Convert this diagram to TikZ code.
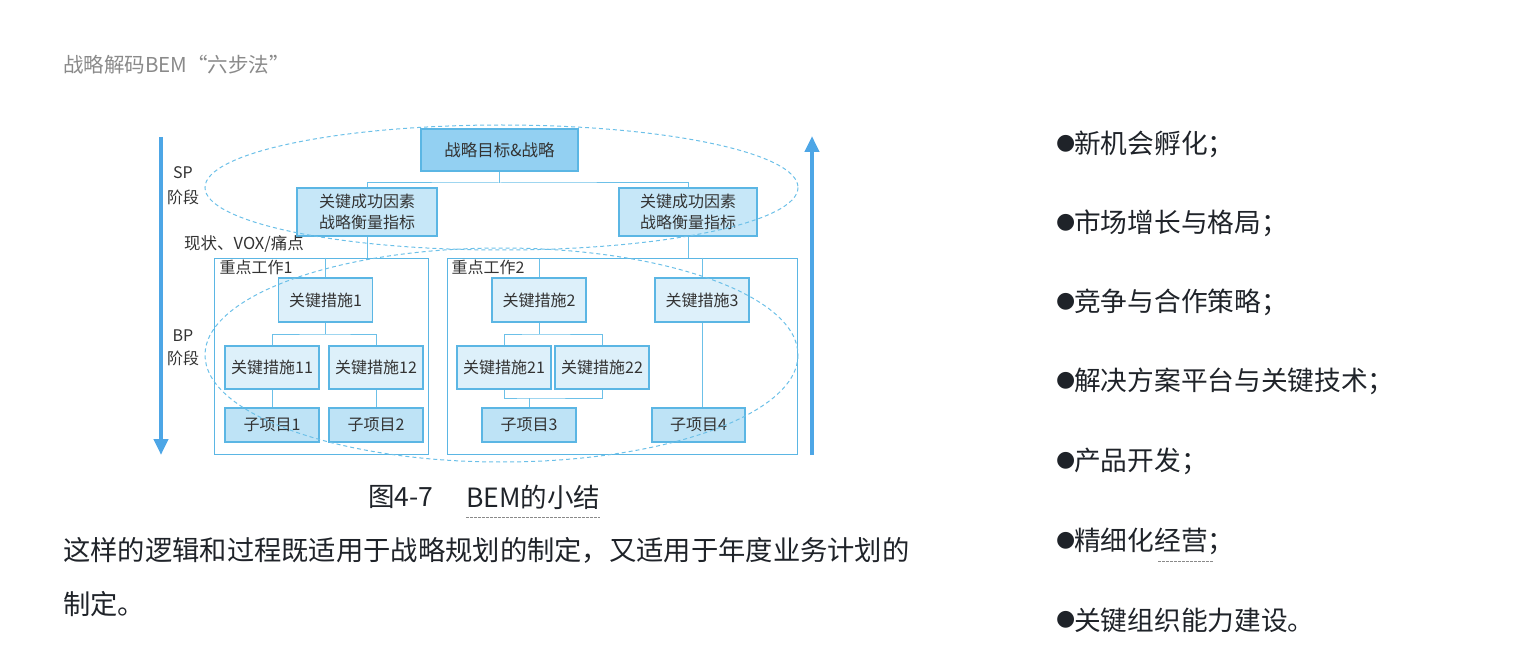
\documentclass[tikz,border=0pt]{standalone}
\usepackage{fontspec}
\setmainfont{Noto Sans CJK SC}
\newfontfamily\dejavu{DejaVu Sans}
\usetikzlibrary{arrows.meta}
\definecolor{bline}{HTML}{6CC0E8}
\definecolor{bdraw}{HTML}{5BB6E4}
\definecolor{fTop}{HTML}{93D0F2}
\definecolor{fCsf}{HTML}{C6E7F8}
\definecolor{fMea}{HTML}{DDF0FA}
\definecolor{fSub}{HTML}{BEE3F6}
\definecolor{arrowc}{HTML}{4DA6E6}
\definecolor{txt}{HTML}{1F2329}
\definecolor{dtxt}{HTML}{333333}
\definecolor{hdr}{HTML}{8A8A8A}
\tikzset{
  x=1pt, y=-1pt,
  box/.style={draw=bdraw, line width=1.1pt, inner sep=0pt, text=dtxt, font=\fontsize{16}{20.5}\selectfont, align=center},
  topbox/.style={box, fill=fTop, minimum width=157pt, minimum height=42pt, font=\fontsize{16.5}{20}\selectfont},
  csfbox/.style={box, fill=fCsf, minimum width=140pt, minimum height=48pt},
  meabox/.style={box, fill=fMea, minimum width=94pt, minimum height=44pt},
  mea2box/.style={box, fill=fMea, minimum width=94pt, minimum height=43pt},
  subbox/.style={box, fill=fSub, minimum width=94pt, minimum height=34pt},
  grpbox/.style={draw=bdraw, line width=1pt, inner sep=0pt},
  conn/.style={draw=bline, line width=1pt},
  ell/.style={draw=bline, line width=1pt, dash pattern=on 4pt off 3pt},
  bigarrow/.style={draw=arrowc, line width=4pt, -{Triangle[length=16pt,width=14pt]}},
  lbl/.style={inner sep=0pt, text=dtxt, font=\fontsize{16}{19}\selectfont},
  body/.style={inner sep=0pt, anchor=west, text=txt, font=\fontsize{27.3}{30}\selectfont},
  bul/.style={inner sep=0pt, anchor=west, text=txt, font=\fontsize{26.7}{30}\selectfont},
  uline/.style={draw=hdr, line width=0.7pt, dash pattern=on 2.5pt off 1.5pt}
}
\begin{document}
\begin{tikzpicture}
\useasboundingbox (0,0) rectangle (1517,671);
% header
\node[inner sep=0pt, anchor=west, text=hdr, font=\fontsize{20.5}{24}\selectfont] (hd) at (63,65) {战略解码BEM“六步法”};
% arrows
\coordinate (la1) at (161,137); \coordinate (la2) at (161,455);
\draw[bigarrow] (la1) -- (la2);
\coordinate (ra1) at (812,455); \coordinate (ra2) at (812,136);
\draw[bigarrow] (ra1) -- (ra2);
% group boxes
\node[grpbox, minimum width=214pt, minimum height=196pt] (G1) at (321,356) {};
\node[grpbox, minimum width=350pt, minimum height=196pt] (G2) at (622,356) {};
\node[lbl, anchor=north west] (g1l) at (G1.north west) [xshift=6pt, yshift=-2pt] {重点工作1};
\node[lbl, anchor=north west] (g2l) at (G2.north west) [xshift=5pt, yshift=-2pt] {重点工作2};
% SP nodes
\node[topbox] (T) at (499.5,150) {战略目标\&战略};
\node[csfbox] (CL) at (367,212) {关键成功因素\\战略衡量指标};
\node[csfbox, minimum width=138pt] (CR) at (688,212) {关键成功因素\\战略衡量指标};
% BP nodes
\node[meabox] (M1) at (325.5,300) {关键措施1};
\node[mea2box] (M11) at (272,367.5) {关键措施11};
\node[mea2box] (M12) at (376,367.5) {关键措施12};
\node[subbox] (P1) at (272,425) {子项目1};
\node[subbox] (P2) at (376,425) {子项目2};
\node[meabox] (M2) at (539,300) {关键措施2};
\node[meabox] (M3) at (702,300) {关键措施3};
\node[mea2box] (M21) at (504,367.5) {关键措施21};
\node[mea2box] (M22) at (602,367.5) {关键措施22};
\node[subbox] (P3) at (529,425) {子项目3};
\node[subbox, minimum width=93pt] (P4) at (698.5,425) {子项目4};
% connectors
\coordinate (j0) at (499.5,183);
\draw[conn] (T.south) -- (j0);
\draw[conn] (CL.north) |- (j0) -| (CR.north);
\draw[conn] (CL.south) -- (CL.south |- G1.north);
\draw[conn] (CR.south) -- (CR.south |- G2.north);
\draw[conn] (M1.north |- G1.north) -- (M1.north);
\coordinate (j1) at (325.5,334);
\draw[conn] (M1.south) -- (j1);
\draw[conn] (M11.north) |- (j1) -| (M12.north);
\draw[conn] (M11.south) -- (P1.north);
\draw[conn] (M12.south) -- (P2.north);
\draw[conn] (M2.north |- G2.north) -- (M2.north);
\draw[conn] (M3.north |- G2.north) -- (M3.north);
\coordinate (j2) at (539,334);
\draw[conn] (M2.south) -- (j2);
\draw[conn] (M21.north) |- (j2) -| (M22.north);
\coordinate (j3) at (529,398);
\draw[conn] (M21.south) |- (j3) -| (M22.south);
\draw[conn] (j3) -- (P3.north);
\draw[conn] (M3.south) -- (M3.south |- P4.north);
% ellipses
\draw[ell] (501.5,187.5) ellipse [x radius=296.5, y radius=62.5];
\draw[ell] (501.5,355) ellipse [x radius=296.5, y radius=107];
% side labels
\node[lbl] (sp1) at (183,173) {SP};
\node[lbl] (sp2) at (183,197) {阶段};
\node[lbl] (bp1) at (183,336) {BP};
\node[lbl] (bp2) at (183,358) {阶段};
\node[lbl, anchor=west, font=\fontsize{16.5}{19}\selectfont] (vox) at (184,244) {现状、VOX/痛点};
% caption
\node[inner sep=0pt, anchor=west, text=txt, font=\fontsize{26.5}{30}\selectfont] (cap1) at (368,497) {图4-7};
\node[inner sep=0pt, anchor=west, text=txt, font=\fontsize{26.5}{30}\selectfont] (cap2) at (466,497) {BEM的小结};
\draw[uline] (cap2.south west |- 0,517) -- (cap2.south east |- 0,517);
% paragraph
\node[body] (pa1) at (63,550) {这样的逻辑和过程既适用于战略规划的制定，又适用于年度业务计划的};
\node[body] (pa2) at (63,604) {制定。};
% bullets
\foreach \yy/\tt [count=\i] in {144/新机会孵化；,223/市场增长与格局；,302/竞争与合作策略；,381/解决方案平台与关键技术；,461/产品开发；,541/精细化经营；,620/关键组织能力建设。}{
  \node[bul, font=\dejavu\fontsize{22}{30}\selectfont] (b\i) at (1056,\yy) {●};
  \node[bul] (t\i) at (1074,\yy) {\tt};
}
\coordinate (u1) at (1158,561); \coordinate (u2) at (1213,561);
\draw[uline] (u1) -- (u2);
\end{tikzpicture}
\end{document}
